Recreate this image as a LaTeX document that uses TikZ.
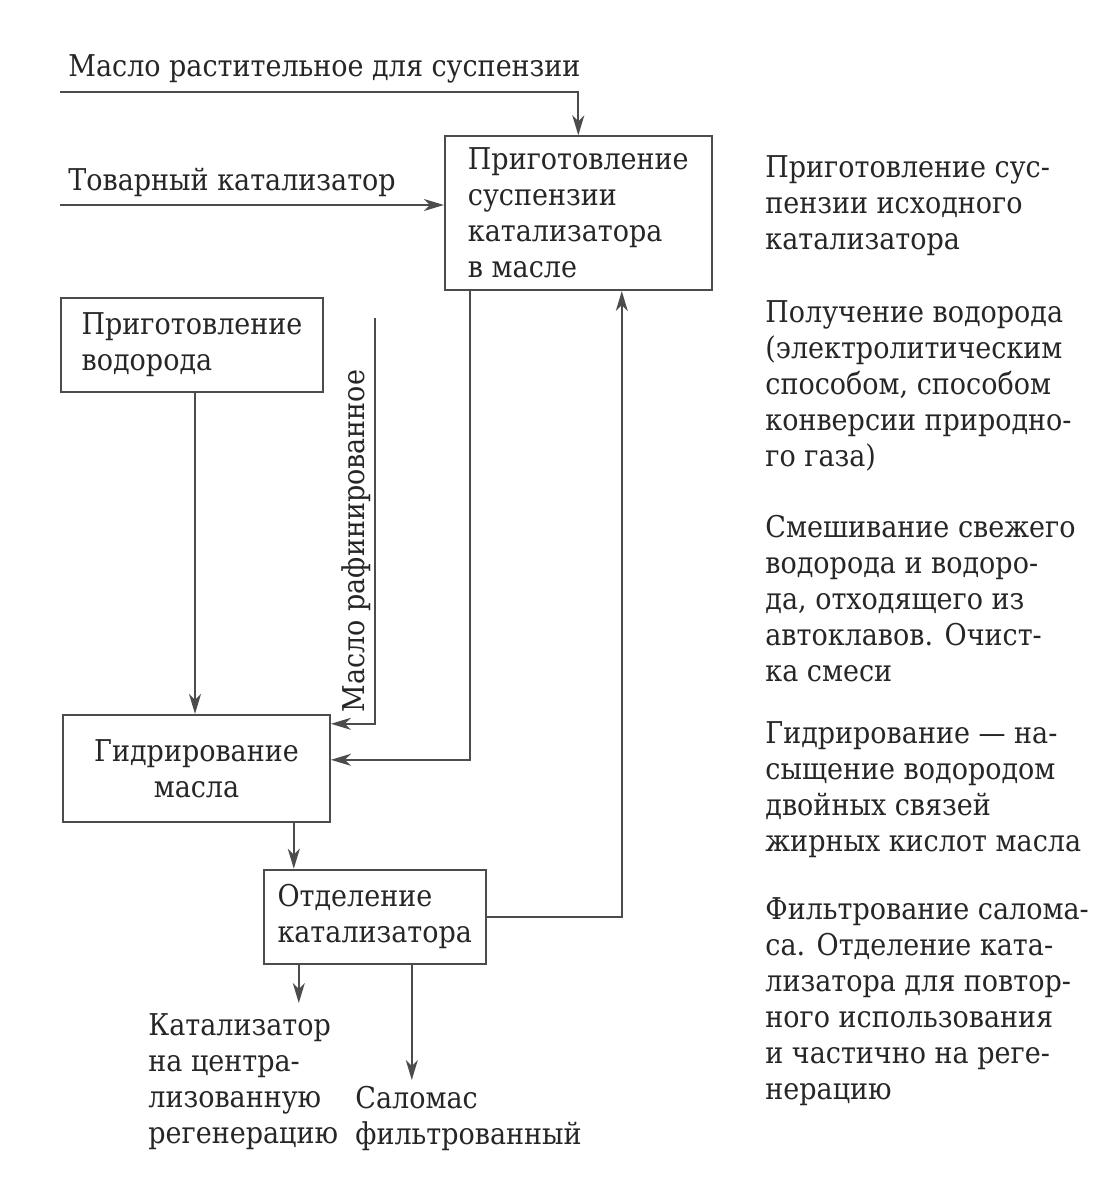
\documentclass[tikz,border=0pt]{standalone}
\usepackage{fontspec}
\setmainfont[FakeStretch=0.9]{DejaVu Serif}
\usetikzlibrary{positioning, arrows.meta}

\begin{document}
\begin{tikzpicture}[
    x=0.5pt, y=-0.5pt,
    every node/.style={font=\fontsize{15pt}{18pt}\selectfont, text=black!85},
    box/.style={rectangle, draw=gray!60!black, line width=0.9pt, inner sep=0pt, align=left},
    lbl/.style={inner sep=0pt, align=left},
    flow/.style={draw=gray!60!black, line width=0.9pt, -{Stealth[length=10pt, width=6pt, inset=3pt]}}
]
\useasboundingbox (0,0) rectangle (1107,1184);

% Flow
\node[box, minimum width=131pt, minimum height=47pt] (h2) at (192,345) {Приготовление\\водорода};
\node[box, minimum width=133.5pt, minimum height=77pt, above right=3pt and 60pt of h2] (susp) {Приготовление\\суспензии\\катализатора\\в масле};
\node[box, minimum width=133.5pt, minimum height=53.5pt, align=center, below=160.5pt of h2, xshift=2.25pt] (hydro) {Гидрирование\\масла};
\node[box, minimum width=111pt, minimum height=47pt, below right=23pt and -34pt of hydro] (sep) {Отделение\\катализатора};

% Inputs and outputs
\coordinate (oilin) at (60,92);
\coordinate (catin) at (60,205);
\coordinate (rafin) at (375,318);
\node[lbl, above right=4pt and 4pt of oilin] (oillbl) {Масло растительное для суспензии};
\node[lbl, above right=4pt and 4pt of catin] (catlbl) {Товарный катализатор};
\node[lbl, rotate=90] (raflbl) at (356,541) {Масло рафинированное};
\node[lbl, anchor=north west] (catout) at (148,1013) {Катализатор\\на центра-\\лизованную\\регенерацию};
\node[lbl, anchor=north west] (salo) at (355,1086) {Саломас\\фильтрованный};

% Arrows
\draw[flow] (oilin) -| (susp.north);
\draw[flow] (catin) -- (catin -| susp.west);
\draw[flow] ([xshift=1.5pt]h2.south) -- ([xshift=1.5pt]h2.south |- hydro.north);
\draw[flow] (rafin) |- ([yshift=22.25pt]hydro.east);
\draw[flow] ([xshift=-54.25pt]susp.south) |- ([yshift=4.25pt]hydro.east);
\draw[flow] ([xshift=-40.5pt]sep.north |- hydro.south) -- ([xshift=-40.5pt]sep.north);
\draw[flow] (sep.east) -| ([xshift=21.75pt]susp.south);
\draw[flow, shorten >=5pt] ([xshift=-38pt]sep.south) -- ([xshift=-38pt]sep.south |- catout.north);
\draw[flow, shorten >=3pt] ([xshift=18.5pt]sep.south) -- ([xshift=18.5pt]sep.south |- salo.north);

% Annotations
\node[lbl, anchor=north west] (note1) at (765,155) {Приготовление сус-\\пензии исходного\\катализатора};
\node[lbl, anchor=north west] (note2) at (765,300) {Получение водорода\\(электролитическим\\способом, способом\\конверсии природно-\\го газа)};
\node[lbl, anchor=north west] (note3) at (765,515) {Смешивание свежего\\водорода и водоро-\\да, отходящего из\\автоклавов. Очист-\\ка смеси};
\node[lbl, anchor=north west] (note4) at (765,721) {Гидрирование — на-\\сыщение водородом\\двойных связей\\жирных кислот масла};
\node[lbl, anchor=north west] (note5) at (765,897) {Фильтрование салома-\\са. Отделение ката-\\лизатора для повтор-\\ного использования\\и частично на реге-\\нерацию};

\end{tikzpicture}
\end{document}
